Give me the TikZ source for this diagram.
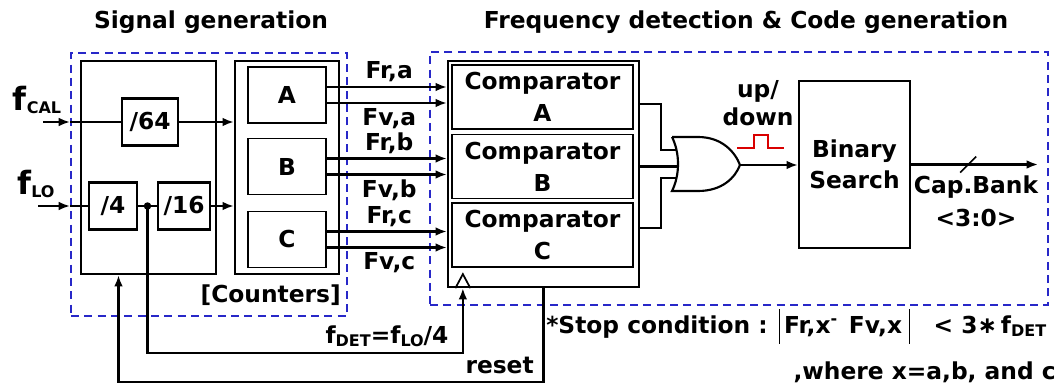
\documentclass[tikz,border=0pt]{standalone}
\usepackage{fontspec}
\setmainfont{DejaVu Sans}
\usetikzlibrary{arrows.meta,positioning,calc}
\definecolor{dashblue}{RGB}{40,40,200}
\newcommand\lowidx[1]{\raisebox{-2.5pt}{\fontsize{12pt}{12pt}\selectfont #1}}
\newcommand\absbar{\rule[-8pt]{1.3pt}{26pt}}
\newcommand\supminus{\raisebox{6pt}{\fontsize{12pt}{12pt}\selectfont -}}

\begin{document}
\begin{tikzpicture}[>={Latex[length=8.5pt,width=6.5pt]},x=0.75pt,y=-0.75pt,
  txt/.style={font=\bfseries\fontsize{17.5pt}{24pt}\selectfont},
  blk/.style={draw,line width=1.7pt,inner sep=0pt,txt},
  inbox/.style={draw,line width=1.3pt,inner sep=0pt,txt},
  grp/.style={draw=dashblue,dash pattern=on 6pt off 4pt,line width=1.4pt,
              inner sep=0pt},
  lbl/.style={txt,inner sep=3pt},
  wire/.style={line width=1.6pt}]
\useasboundingbox (0,0) rectangle (1060,388);
\node[grp,minimum width=207pt,minimum height=197.25pt] (sig) at (209,184.5) {};
\node[grp,minimum width=463.5pt,minimum height=189.75pt] (det) at (739,178.5) {};
\node[txt] (tsig) at (211,22) {Signal generation};
\node[txt] (tdet) at (746,22) {Frequency detection \& Code generation};
% signal generation
\node[blk,minimum width=101.25pt,minimum height=159.75pt] (div) at (148.5,167.5) {};
\node[blk,minimum width=78pt,minimum height=159.75pt] (cnt) at (287,167.5) {};
\node[blk,minimum width=42pt,minimum height=35.25pt] (d64) at (150,122) {/64};
\node[blk,minimum width=36pt,minimum height=35.25pt] (d4) at (113,206) {/4};
\node[blk,minimum width=39pt,minimum height=35.25pt] (d16) at (184,206) {/16};
\foreach \c/\y in {A/95,B/166.5,C/239.5}
  \node[inbox,minimum width=58.5pt,minimum height=42pt] (c\c) at (287,\y) {\c};
\node[lbl,anchor=east] (cntlbl) at (345,295) {[Counters]};
\node[inner sep=0pt,font=\bfseries] (fcal) at (37,100)
  {\fontsize{24pt}{24pt}\selectfont f\lowidx{CAL}};
\node[inner sep=0pt,font=\bfseries] (flo) at (36,184)
  {\fontsize{24pt}{24pt}\selectfont f\lowidx{LO}};
\coordinate (calin) at (43,122);
\coordinate (loin) at (38,206);
\draw[wire,->] (calin) -- (calin -| sig.west);
\draw[wire] (calin -| sig.west) -- (d64);
\draw[wire,->] (loin) -- (loin -| sig.west);
\draw[wire] (loin -| sig.west) -- (d4);
\draw[wire] (d4) -- (d16);
\coordinate (tap) at ($(d4.east)!0.5!(d16.west)$);
\fill (tap) circle (2.8pt);
\draw[wire,->] (d64) -- (d64 -| cnt.west);
\draw[wire,->] (d16) -- (d16 -| cnt.west);
% frequency detection
\node[blk,minimum width=143.25pt,minimum height=169.5pt] (cmp) at (543.5,174) {};
\foreach \c/\y in {A/97,B/166.5,C/235}
  \node[inbox,align=center,minimum width=135.75pt,minimum height=48pt]
    (cmp\c) at (542.5,\y) {Comparator\\\c};
\foreach \c/\n in {A/a,B/b,C/c}{
  \draw[wire,->] ([yshift=6pt]c\c.east) -- ([yshift=6pt]c\c.east -| cmp.west)
    node[lbl,above,pos=0.52] {Fr,\n};
  \draw[wire,->] ([yshift=-6pt]c\c.east) -- ([yshift=-6pt]c\c.east -| cmp.west)
    node[lbl,below,pos=0.52] {Fv,\n};
}
\coordinate (clk) at ([xshift=12pt]cmp.south west);
\draw[line width=1.3pt] ([xshift=-5.6pt]clk) -- ([yshift=10.5pt]clk)
  -- ([xshift=5.6pt]clk);
% or gate
\draw[wire] (672,137) -- (698,137) .. controls (722,137) and (735,152) .. (740,165)
  .. controls (735,178) and (722,191) .. (698,191) -- (672,191)
  .. controls (680,175) and (680,153) .. (672,137);
\coordinate (or1) at (676.5,150);
\coordinate (or2) at (678,166.5);
\coordinate (or3) at (676.5,178);
\coordinate (orout) at (740,165);
\draw[wire] ([yshift=-5.25pt]cmpA.east -| cmp.east) -- ++(21,0) |- (or1);
\draw[wire] (cmpB.east -| cmp.east) -- (or2);
\draw[wire] ([yshift=5.25pt]cmpC.east -| cmp.east) -- ++(21,0) |- (or3);
\node[blk,align=center,font=\bfseries\fontsize{17.5pt}{23pt}\selectfont,
  minimum width=83.25pt,minimum height=125.25pt] (bs) at (854.5,164.5) {Binary\\Search};
\draw[wire,->] (orout) -- (orout -| bs.west);
\node[inner sep=0pt,align=center,font=\bfseries\fontsize{17.5pt}{21pt}\selectfont]
  (ud) at (758,103) {up/\\down};
\draw[red!85!black,line width=1.2pt] (737,148) -- ++(17,0) -- ++(0,-13) -- ++(14,0)
  -- ++(0,13) -- ++(16,0);
\coordinate (capout) at (1038,164.5);
\draw[wire,->] (bs.east) -- (capout);
\draw[line width=1.2pt] ($(bs.east)!0.45!(capout)$) ++(-8,8) -- ++(16,-16);
\node[inner sep=0pt,align=center,font=\bfseries\fontsize{17.5pt}{24.75pt}\selectfont]
  (cap) at (976,201) {Cap.Bank\\<3:0>};
% feedback
\coordinate (rst) at ([xshift=-22.5pt]div.south);
\draw[wire,->] (tap) -- ++(0,147) -| (clk);
\draw[wire,->] (cmp.south) -- ++(0,94) -| (rst);
\node[lbl] (fdet) at (387,336) {f\lowidx{DET}=f\lowidx{LO}/4};
\node[lbl,anchor=east] (rlbl) at (538,365) {reset};
\node[txt,anchor=base west,inner sep=0pt] (stop) at (546,333)
  {*Stop condition : \absbar\,Fr,x\supminus\enspace Fv,x\;\absbar\quad< 3∗\,f\lowidx{DET}};
\node[txt,anchor=base east,inner sep=0pt] (where) at (1056,379)
  {,where x=a,b, and c};
\end{tikzpicture}
\end{document}
